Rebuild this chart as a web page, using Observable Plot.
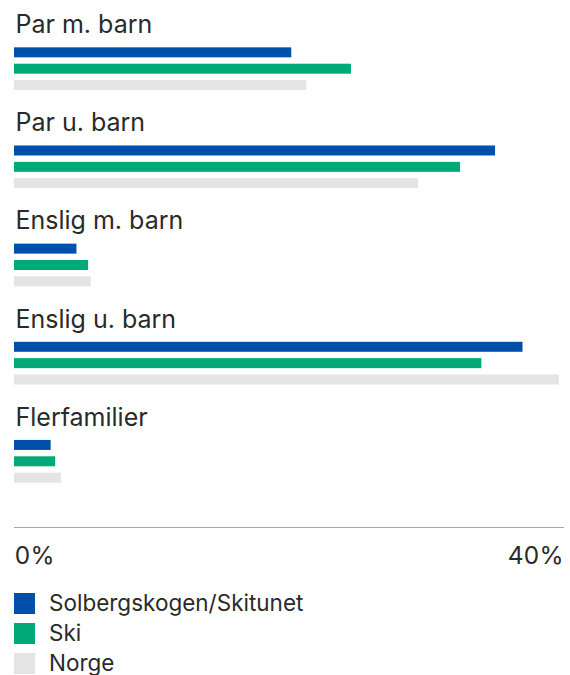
<!DOCTYPE html>
<html>
<head>
<meta charset="utf-8">
<script src="https://cdn.jsdelivr.net/npm/d3@7"></script>
<script src="https://cdn.jsdelivr.net/npm/@observablehq/plot@0.6"></script>
<style>
  html, body { margin: 0; padding: 0; background: #fff; }
  body { width: 570px; font-family: Inter, "Noto Sans", sans-serif; color: #2a2a2a; }
  #chart svg { display: block; }
  #legend { margin-top: 13px; }
  .row { display: flex; align-items: center; height: 30px; }
  .sw { width: 21px; height: 21px; margin-left: 14px; margin-right: 14px; flex: none; }
  .lab { font-size: 22.5px; line-height: 30px; }
</style>
</head>
<body>
<div id="chart"></div>
<div id="legend"></div>
<script>
const categories = ["Par m. barn", "Par u. barn", "Enslig m. barn", "Enslig u. barn", "Flerfamilier"];
const series = ["Solbergskogen/Skitunet", "Ski", "Norge"];
const colors = ["#0050AA", "#00AA78", "#E4E4E4"];
const solbergskogen = [20.2, 35.05, 4.55, 37.05, 2.67];
const ski = [24.55, 32.5, 5.4, 34.05, 3.0];
const norge = [21.3, 29.45, 5.6, 39.7, 3.42];
const xTicks = [0, 40];

const values = [solbergskogen, ski, norge];
const rows = [];
categories.forEach((c, i) => {
  series.forEach((s, j) => rows.push({category: c, series: s, value: values[j][i], key: c + "|" + s}));
});
const yDomain = [];
categories.forEach(c => {
  yDomain.push(c + "|label");
  series.forEach(s => yDomain.push(c + "|" + s));
  yDomain.push(c + "|pad1", c + "|pad2");
});
const labels = categories.map(c => ({category: c, key: c + "|label"}));

const H = 575;
const step = 98.15 / 6;
const pInner = 1 - 10 / step;
const chart = Plot.plot({
  width: 570,
  height: H,
  marginLeft: 14,
  marginRight: 7,
  marginTop: 0,
  marginBottom: H - 527,
  style: {fontFamily: "Inter, 'Noto Sans', sans-serif", background: "#fff"},
  x: {domain: [0, 40], axis: null, label: null},
  y: {domain: yDomain, range: [27.8, 27.8 + 30 * step], round: false, paddingInner: pInner, paddingOuter: pInner / 2, axis: null},
  color: {domain: series, range: colors},
  marks: [
    Plot.barX(rows, {x: "value", y: "key", fill: "series"}),
    Plot.text(labels, {x: 0, y: "key", text: "category", textAnchor: "start", lineAnchor: "bottom", dx: 1, dy: -3.3, fontSize: 25, fill: "#2a2a2a"}),
    Plot.frame({anchor: "bottom", stroke: "#a6a6a6", strokeWidth: 1.2}),
    Plot.axisX({ticks: [xTicks[0]], label: null, tickSize: 0, tickPadding: 19, textAnchor: "start", tickFormat: d => d + "%", fontSize: 24.5, fill: "#2a2a2a"}),
    Plot.axisX({ticks: [xTicks[1]], label: null, tickSize: 0, tickPadding: 19, textAnchor: "end", tickFormat: d => d + "%", fontSize: 24.5, fill: "#2a2a2a"})
  ]
});
document.getElementById("chart").appendChild(chart);

const legend = document.getElementById("legend");
series.forEach((s, j) => {
  const row = document.createElement("div");
  row.className = "row";
  const sw = document.createElement("div");
  sw.className = "sw";
  sw.style.background = colors[j];
  const lab = document.createElement("span");
  lab.className = "lab";
  lab.textContent = s;
  row.appendChild(sw);
  row.appendChild(lab);
  legend.appendChild(row);
});
</script>
</body>
</html>
